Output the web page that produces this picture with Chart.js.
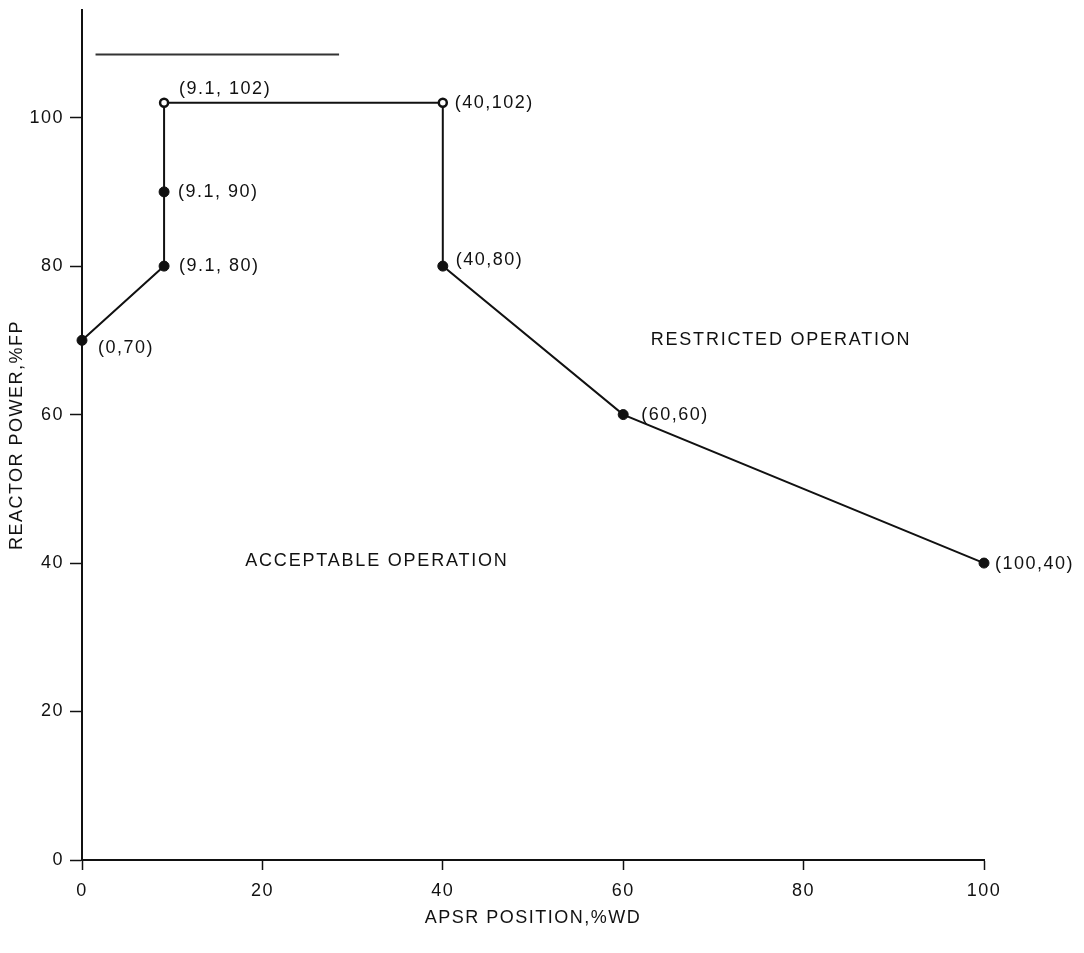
<!DOCTYPE html>
<html>
<head>
<meta charset="utf-8">
<script src="https://cdn.jsdelivr.net/npm/chart.js@4.4.1/dist/chart.umd.min.js"></script>
<style>
  html, body { margin: 0; padding: 0; background: #fff; }
  #wrap { width: 1084px; height: 953px; }
</style>
</head>
<body>
<div id="wrap"><canvas id="c" width="1084" height="953"></canvas></div>
<script>
// ---- data ----
const apsrPosition = [0, 9.1, 9.1, 9.1, 40, 40, 60, 100];
const reactorPower = [70, 80, 90, 102, 102, 80, 60, 40];
const pointLabels = ['(0,70)', '(9.1, 80)', '(9.1, 90)', '(9.1, 102)', '(40,102)', '(40,80)', '(60,60)', '(100,40)'];
const openPoint = [false, false, false, true, true, false, false, false];
const strayLineX = [1.5, 28.5];
const strayLineY = [108.5, 108.5];
const xTicks = [0, 20, 40, 60, 80, 100];
const yTicks = [0, 20, 40, 60, 80, 100];
const regionLabels = ['RESTRICTED OPERATION', 'ACCEPTABLE OPERATION'];
const regionX = [77.5, 32.7];
const regionY = [70, 40.3];

// ---- styles ----
const FONT = "'Liberation Sans', Arial, Helvetica, sans-serif";
const LABEL_DX = [16, 15, 14, 15, 12, 13, 18, 11];
const LABEL_DY = [8, 0, 0, -14, 0, -6, 0, 1];

const mainData = apsrPosition.map((x, i) => ({ x, y: reactorPower[i] }));
const strayData = strayLineX.map((x, i) => ({ x, y: strayLineY[i] }));

const spacingPlugin = {
  id: 'spacing',
  beforeUpdate(chart) { chart.ctx.letterSpacing = '1.5px'; },
  beforeLayout(chart) { chart.ctx.letterSpacing = '1.5px'; },
  beforeDraw(chart) { chart.ctx.letterSpacing = '1.5px'; }
};

const textPlugin = {
  id: 'texts',
  afterDatasetsDraw(chart) {
    const ctx = chart.ctx;
    const meta = chart.getDatasetMeta(0);
    ctx.save();
    ctx.letterSpacing = '1.5px';
    ctx.fillStyle = '#111';
    ctx.font = '18px ' + FONT;
    ctx.textAlign = 'left';
    ctx.textBaseline = 'middle';
    meta.data.forEach((pt, i) => {
      ctx.fillText(pointLabels[i], pt.x + LABEL_DX[i], pt.y + LABEL_DY[i]);
    });
    const xs = chart.scales.x, ys = chart.scales.y;
    ctx.textAlign = 'center';
    ctx.letterSpacing = '1.8px';
    ctx.font = '18px ' + FONT;
    regionLabels.forEach((t, i) => {
      ctx.fillText(t, xs.getPixelForValue(regionX[i]), ys.getPixelForValue(regionY[i]));
    });
    ctx.restore();
  }
};

new Chart(document.getElementById('c'), {
  type: 'scatter',
  data: {
    datasets: [
      {
        data: mainData,
        showLine: true,
        clip: false,
        borderColor: '#111',
        borderWidth: 2,
        pointRadius: openPoint.map(o => o ? 4 : 5),
        pointBackgroundColor: openPoint.map(o => o ? '#fff' : '#111'),
        pointBorderColor: '#111',
        pointBorderWidth: openPoint.map(o => o ? 2.5 : 1),
        tension: 0
      },
      {
        data: strayData,
        showLine: true,
        clip: false,
        borderColor: '#333',
        borderWidth: 2,
        pointRadius: 0
      }
    ]
  },
  plugins: [spacingPlugin, textPlugin],
  options: {
    responsive: false,
    animation: false,
    devicePixelRatio: 1,
    layout: { padding: { top: 10, right: 100, left: 0, bottom: 0 } },
    plugins: { legend: { display: false }, tooltip: { enabled: false } },
    scales: {
      x: {
        type: 'linear',
        min: 0, max: 100,
        afterBuildTicks(axis) { axis.ticks = xTicks.map(v => ({ value: v })); },
        afterFit(axis) { axis.height = 93; },
        border: { display: true, color: '#111', width: 2 },
        grid: { display: true, drawOnChartArea: false, drawTicks: true, tickLength: 10, tickColor: '#111', tickWidth: 1.5 },
        ticks: { color: '#111', font: { family: FONT, size: 18 }, padding: 10, maxRotation: 0 },
        title: { display: true, text: 'APSR POSITION,%WD', color: '#111', font: { family: FONT, size: 18 }, padding: { top: 0, bottom: 24 } }
      },
      y: {
        type: 'linear',
        min: 0, max: 114.5,
        afterBuildTicks(axis) { axis.ticks = yTicks.map(v => ({ value: v })); },
        afterFit(axis) { axis.width = 82; axis.paddingTop = 0; axis.paddingBottom = 0; },
        border: { display: true, color: '#111', width: 2 },
        grid: { display: true, drawOnChartArea: false, drawTicks: true, tickLength: 12, tickColor: '#111', tickWidth: 1.5 },
        ticks: { color: '#111', font: { family: FONT, size: 18 }, padding: 6 },
        title: { display: true, text: 'REACTOR POWER,%FP', color: '#111', font: { family: FONT, size: 18 }, padding: { top: 6, bottom: 0 } }
      }
    }
  }
});
</script>
</body>
</html>
